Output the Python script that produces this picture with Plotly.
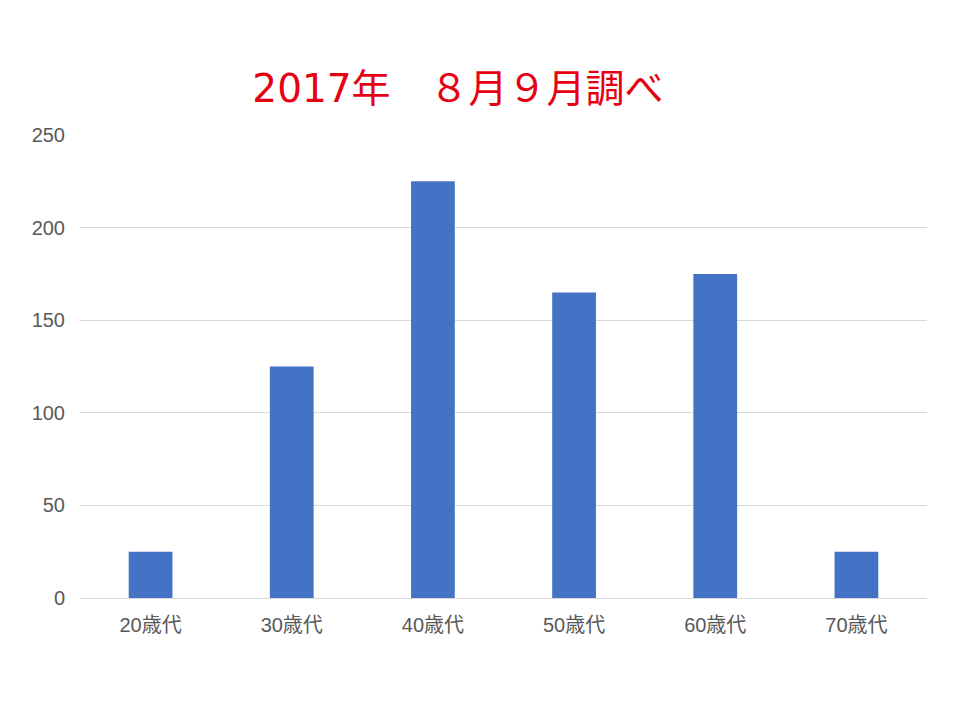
import plotly.graph_objs as go

categories = ['20歳代', '30歳代', '40歳代', '50歳代', '60歳代', '70歳代']
counts = [25, 125, 225, 165, 175, 25]
y_ticks = [0, 50, 100, 150, 200, 250]
title_text = '2017年　８月９月調べ'

# page body has an 8px margin, so the layout is offset by that
fig = go.Figure()
fig.add_trace(go.Bar(x=categories, y=counts, marker_color='#4472C4',
                     marker_line_width=0))
fig.update_layout(width=960, height=720,
                  margin=dict(l=72, r=41, t=127, b=130),
                  paper_bgcolor='white', plot_bgcolor='white',
                  bargap=0.69,
                  showlegend=False,
                  title=dict(text=title_text, x=450/960, xanchor='center',
                             y=1 - 80/720, yanchor='middle',
                             font=dict(family='DejaVu Sans, Noto Sans CJK JP', size=39,
                                       color='#E60012')),
                  font=dict(family='Liberation Sans, Noto Sans CJK JP', size=20,
                            color='#595959'))
fig.update_xaxes(showline=True, linecolor='#d9d9d9', linewidth=1,
                 ticks='', showgrid=False, ticklabelstandoff=9)
fig.update_yaxes(range=[0, 250], tickvals=y_ticks, showgrid=True,
                 gridcolor='#d9d9d9', gridwidth=1, zeroline=False,
                 ticks='', ticklabelstandoff=14)
fig.write_html("out.html")
